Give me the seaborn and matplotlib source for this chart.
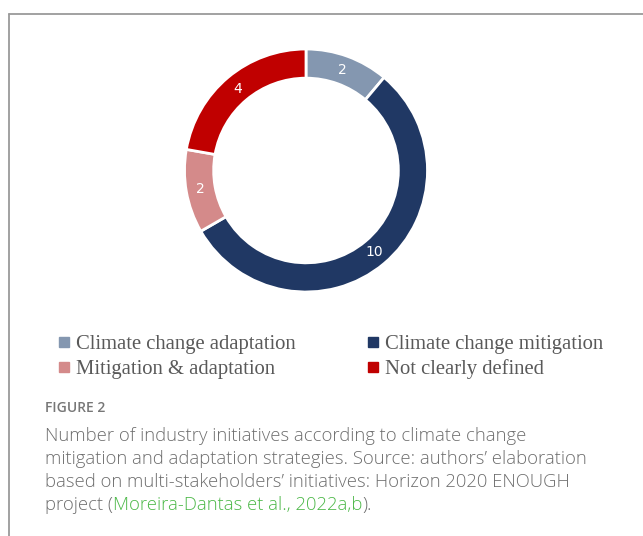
import matplotlib
matplotlib.use("Agg")
import matplotlib.pyplot as plt
from matplotlib.lines import Line2D
import seaborn as sns

sns.set_theme(style="white")

categories = ["Climate change adaptation", "Climate change mitigation",
              "Mitigation & adaptation", "Not clearly defined"]
values = [2, 10, 2, 4]
colors = ["#8497B0", "#203864", "#D48A8A", "#C00000"]

W, H = 643, 536
fig = plt.figure(figsize=(W / 100, H / 100), dpi=100)
fig.patch.set_facecolor("white")

# donut axes
cx, cy, r = 306, 170.5, 121.5
ax = fig.add_axes([(cx - r) / W, (H - cy - r) / H, 2 * r / W, 2 * r / H])
total = sum(values)
wedges, _, autotexts = ax.pie(
    values, colors=colors, startangle=90, counterclock=False,
    wedgeprops=dict(width=0.24, edgecolor="white", linewidth=2),
    autopct=lambda p: f"{round(p * total / 100)}", pctdistance=0.88,
    textprops=dict(color="white", fontsize=10, family="DejaVu Sans"))
ax.set_xlim(-1, 1)
ax.set_ylim(-1, 1)
ax.set_aspect("equal")
ax.axis("off")

# legend
order = [0, 2, 1, 3]
handles = [Line2D([], [], marker="s", linestyle="none", markersize=6.5,
                  markerfacecolor=colors[i], markeredgecolor=colors[i]) for i in order]
labels = [categories[i] for i in order]
leg = fig.legend(handles, labels, ncol=2, frameon=False, loc="upper left",
                 bbox_to_anchor=(50 / W, 1 - 326 / H),
                 prop=dict(family="Liberation Serif", size=14.9),
                 handlelength=0.6, handletextpad=0.28, columnspacing=3.4,
                 labelspacing=0.28, borderaxespad=0)
for t in leg.get_texts():
    t.set_color("#595959")

# frame lines
fig.add_artist(Line2D([9 / W, 9 / W], [0, 1 - 14 / H], transform=fig.transFigure,
                      color="#9a9a9a", linewidth=1.3))
fig.add_artist(Line2D([9 / W, 1], [1 - 14 / H, 1 - 14 / H], transform=fig.transFigure,
                      color="#9a9a9a", linewidth=1.3))

# caption
cap_color = "#6e6e6e"
fig.text(45 / W, 1 - 408 / H, "FIGURE 2", fontsize=10, color="#777777",
         family="Open Sans", fontweight="semibold", va="center", ha="left")
lines = ["Number of industry initiatives according to climate change",
         "mitigation and adaptation strategies. Source: authors\u2019 elaboration",
         "based on multi-stakeholders\u2019 initiatives: Horizon 2020 ENOUGH"]
ys = [436, 459, 482, 505]
fs = 13.3
for ln, y in zip(lines, ys):
    fig.text(45 / W, 1 - y / H, ln, fontsize=fs, color=cap_color,
             family="Open Sans", fontweight="light", va="center", ha="left")

renderer = fig.canvas.get_renderer()
parts = [("project (", cap_color), ("Moreira-Dantas et al., 2022a,b", "#4CB848"), (").", cap_color)]
x = 45
for txt, col in parts:
    t = fig.text(x / W, 1 - ys[3] / H, txt, fontsize=fs, color=col,
                 family="Open Sans", fontweight="light", va="center", ha="left")
    bb = t.get_window_extent(renderer=renderer)
    x += bb.width

fig.savefig("out.png", dpi=100, facecolor="white")
